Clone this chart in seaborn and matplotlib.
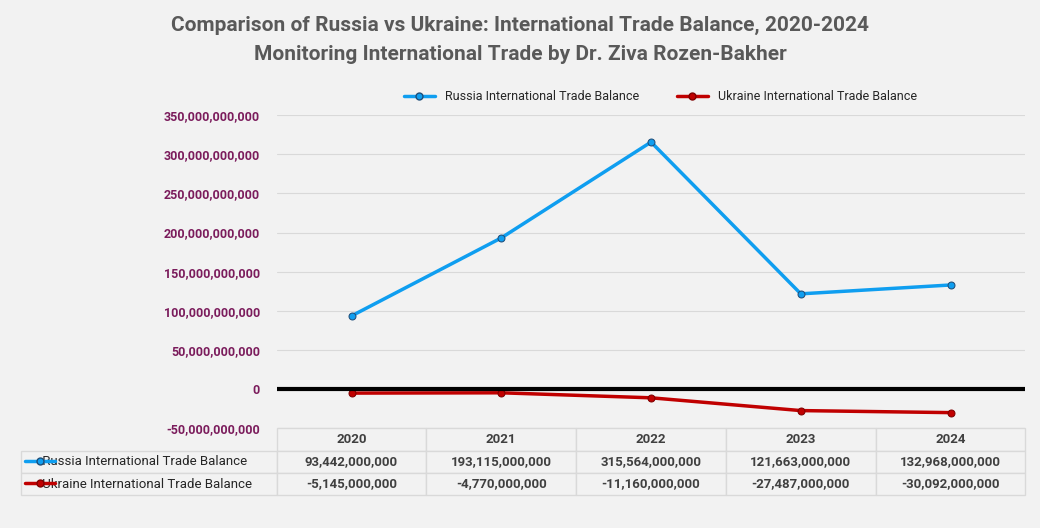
import matplotlib.pyplot as plt
import seaborn as sns
import pandas as pd
from matplotlib.lines import Line2D

years = ["2020", "2021", "2022", "2023", "2024"]
russia = [93442000000, 193115000000, 315564000000, 121663000000, 132968000000]
ukraine = [-5145000000, -4770000000, -11160000000, -27487000000, -30092000000]
names = ["Russia International Trade Balance", "Ukraine International Trade Balance"]
colors = ["#0f9ef0", "#c00000"]

sns.set_theme(style="white")
plt.rcParams['font.family'] = ['Roboto', 'DejaVu Sans']

fig = plt.figure(figsize=(10.4, 5.28), dpi=100, facecolor="#f2f2f2")
ax = fig.add_axes([0.266, 0.189, 0.72, 0.593], facecolor="#f2f2f2")

df = pd.DataFrame({"year": list(range(5)) * 2,
                   "value": russia + ukraine,
                   "series": [names[0]] * 5 + [names[1]] * 5})
sns.lineplot(data=df, x="year", y="value", hue="series", palette=colors,
             marker="o", markersize=5, markeredgecolor="#1f4e79", linewidth=2.5,
             ax=ax, legend=False)
for ln, mc in zip(ax.lines, ["#1f4e79", "#7f0000"]):
    ln.set_markeredgecolor(mc)

ax.set_xlim(-0.5, 4.5)
ax.set_ylim(-50e9, 350e9)
ax.set_yticks([i * 50e9 for i in range(-1, 8)])
ax.set_yticklabels([f"{int(v):,}" for v in ax.get_yticks()], color="#7b1c5c",
                   fontsize=9, fontweight="bold")
ax.set_xticks([])
ax.set_xlabel("")
ax.set_ylabel("")
ax.grid(axis="y", color="#d9d9d9", linewidth=0.8)
ax.axhline(0, color="black", linewidth=3)
for s in ax.spines.values():
    s.set_visible(False)
ax.tick_params(axis="y", length=0, pad=12)

fmt = lambda v: f"{v:,}"
cells = [[""] + years,
         ["     " + names[0]] + [fmt(v) for v in russia],
         ["     " + names[1]] + [fmt(v) for v in ukraine]]
tb = ax.table(cellText=cells, bbox=[-0.341, -0.214, 1.341, 0.214],
              cellLoc="center", edges="closed")
tb.auto_set_font_size(False)
for (r, c), cell in tb.get_celld().items():
    cell.set_facecolor("#f2f2f2")
    cell.set_edgecolor("#d9d9d9")
    cell.set_text_props(fontsize=9.5, fontweight="bold" if c > 0 else "normal",
                        color="#404040" if c > 0 else "#262626")
    if c == 0:
        cell.set_width(255 / 748)
        cell.get_text().set_horizontalalignment("left")
        cell.PAD = 0.02
    else:
        cell.set_width(149.6 / 748)
    if r == 0 and c == 0:
        cell.set_edgecolor("#f2f2f2")

for yy, col, mc in [(1 - 461 / 528, colors[0], "#1f4e79"), (1 - 483 / 528, colors[1], "#7f0000")]:
    fig.add_artist(Line2D([0.024, 0.053], [yy, yy], color=col, lw=2.5,
                          transform=fig.transFigure))
    fig.add_artist(Line2D([0.0385], [yy], color=col, marker="o", markersize=5,
                          markeredgecolor=mc, transform=fig.transFigure))

handles = [Line2D([], [], color=c, lw=2.5, marker="o", markersize=5, markeredgecolor=m)
           for c, m in zip(colors, ["#1f4e79", "#7f0000"])]
fig.legend(handles, names, loc="center", bbox_to_anchor=(0.635, 1 - 97 / 528),
           ncol=2, frameon=False, fontsize=9, columnspacing=3, handlelength=2.5)

fig.text(0.5, 1 - 25 / 528, "Comparison of Russia vs Ukraine: International Trade Balance, 2020-2024",
         ha="center", va="center", fontsize=15, fontweight="bold", color="#595959")
fig.text(0.5, 1 - 54 / 528, "Monitoring International Trade by Dr. Ziva Rozen-Bakher",
         ha="center", va="center", fontsize=15, fontweight="bold", color="#595959")

fig.savefig("out.png", dpi=100, facecolor=fig.get_facecolor())
